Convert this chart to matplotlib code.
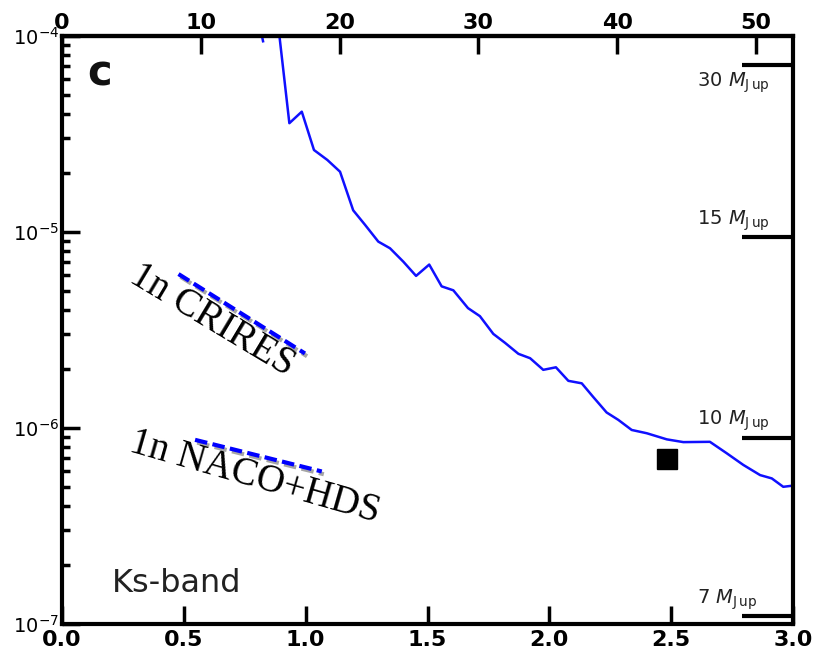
import numpy as np
import matplotlib
matplotlib.use("Agg")
import matplotlib.pyplot as plt
from matplotlib import patheffects as pe

# detection limit curve (Ks-band)
sep = [0.885, 0.933, 0.984, 1.034, 1.089, 1.141, 1.195, 1.243, 1.298, 1.346,
       1.401, 1.453, 1.507, 1.558, 1.606, 1.666, 1.715, 1.770, 1.818, 1.873,
       1.921, 1.975, 2.027, 2.078, 2.133, 2.180, 2.235, 2.283, 2.338, 2.400,
       2.482, 2.550, 2.659, 2.728, 2.796, 2.865, 2.913, 2.960, 2.988]
contrast = [1.2e-4, 3.59e-5, 4.11e-5, 2.62e-5, 2.33e-5, 2.03e-5, 1.29e-5, 1.09e-5, 8.93e-6, 8.26e-6,
            7.05e-6, 5.97e-6, 6.82e-6, 5.28e-6, 5.04e-6, 4.09e-6, 3.72e-6, 3.02e-6, 2.72e-6, 2.39e-6,
            2.27e-6, 1.98e-6, 2.04e-6, 1.74e-6, 1.69e-6, 1.44e-6, 1.20e-6, 1.10e-6, 9.77e-7, 9.40e-7,
            8.75e-7, 8.47e-7, 8.50e-7, 7.43e-7, 6.48e-7, 5.75e-7, 5.53e-7, 5.01e-7, 5.06e-7]
# little clipped bit near the top
tip_x = [0.815, 0.825]
tip_y = [1.08e-4, 9.4e-5]

# detected companion
comp_x = [2.483]
comp_y = [6.95e-7]

# 1 sigma levels of other instruments
crires_x = [0.478, 0.997]
crires_y = [6.1e-6, 2.4e-6]
naco_x = [0.546, 1.066]
naco_y = [8.7e-7, 6.0e-7]

# mass levels
mass_labels = ["30", "15", "10", "7"]
mass_y = [7.1e-5, 9.46e-6, 8.93e-7, 1.10e-7]
mass_text_y = [5.5e-5, 1.086e-5, 1.035e-6, 1.265e-7]

au_per_arcsec = 52.66 / 3.0

fig = plt.figure(figsize=(8.14, 6.58), dpi=100)
ax = fig.add_axes([0.0762, 0.0517, 0.898, 0.8936])

ax.plot(sep, contrast, color="#1010ff", lw=1.8)
ax.plot(tip_x, tip_y, color="#1010ff", lw=1.8)
ax.plot(comp_x, comp_y, marker="s", ms=15, color="black", ls="none")

shadow = [pe.SimpleLineShadow(offset=(1.5, -2), alpha=0.35), pe.Normal()]
ax.plot(crires_x, crires_y, color="#0000ff", lw=3, ls=(0, (3, 1.3)), path_effects=shadow)
ax.plot(naco_x, naco_y, color="#0000ff", lw=3, ls=(0, (3, 1.3)), path_effects=shadow)

ax.text(0.27, 5.6e-6, "1n CRIRES", family="Liberation Serif", fontsize=28,
        rotation=-31, rotation_mode="anchor", ha="left", va="baseline")
ax.text(0.27, 7.6e-7, "1n NACO+HDS", family="Liberation Serif", fontsize=28,
        rotation=-16, rotation_mode="anchor", ha="left", va="baseline")

for lab, yv, ty in zip(mass_labels, mass_y, mass_text_y):
    ax.plot([2.79, 3.0], [yv, yv], color="black", lw=3, solid_capstyle="butt", clip_on=False)
    ax.text(2.606, ty, lab + r" $M_{\mathrm{J\,up}}$", fontsize=14, color="#222222",
            ha="left", va="baseline")

ax.text(0.205, 1.455e-7, "Ks-band", fontsize=23, color="#222222")
ax.text(0.105, 5.6e-5, "c", fontsize=30, weight="bold", color="#111111")

ax.set_yscale("log")
ax.set_xlim(0, 3.0)
ax.set_ylim(1e-7, 1e-4)
ax.set_xticks(np.arange(0, 3.01, 0.5))
ax.set_xticklabels(["%.1f" % v for v in np.arange(0, 3.01, 0.5)])
ax.tick_params(axis="x", which="major", direction="in", length=13, width=2.5,
               labelsize=16, pad=4)
ax.tick_params(axis="y", which="major", direction="in", length=13, width=2.5,
               labelsize=14, pad=2)
ax.tick_params(axis="y", which="minor", direction="in", length=6, width=2.5)
ax.tick_params(axis="x", which="minor", bottom=False)
for lbl in ax.get_xticklabels():
    lbl.set_fontweight("bold")

for s in ax.spines.values():
    s.set_linewidth(3)

top = ax.secondary_xaxis("top", functions=(lambda x: x * au_per_arcsec,
                                           lambda x: x / au_per_arcsec))
top.set_xticks([0, 10, 20, 30, 40, 50])
top.tick_params(direction="in", length=13, width=2.5, labelsize=16, pad=2)
top.spines["top"].set_linewidth(3)
for lbl in top.get_xticklabels():
    lbl.set_fontweight("bold")

fig.savefig("out.png", dpi=100)
